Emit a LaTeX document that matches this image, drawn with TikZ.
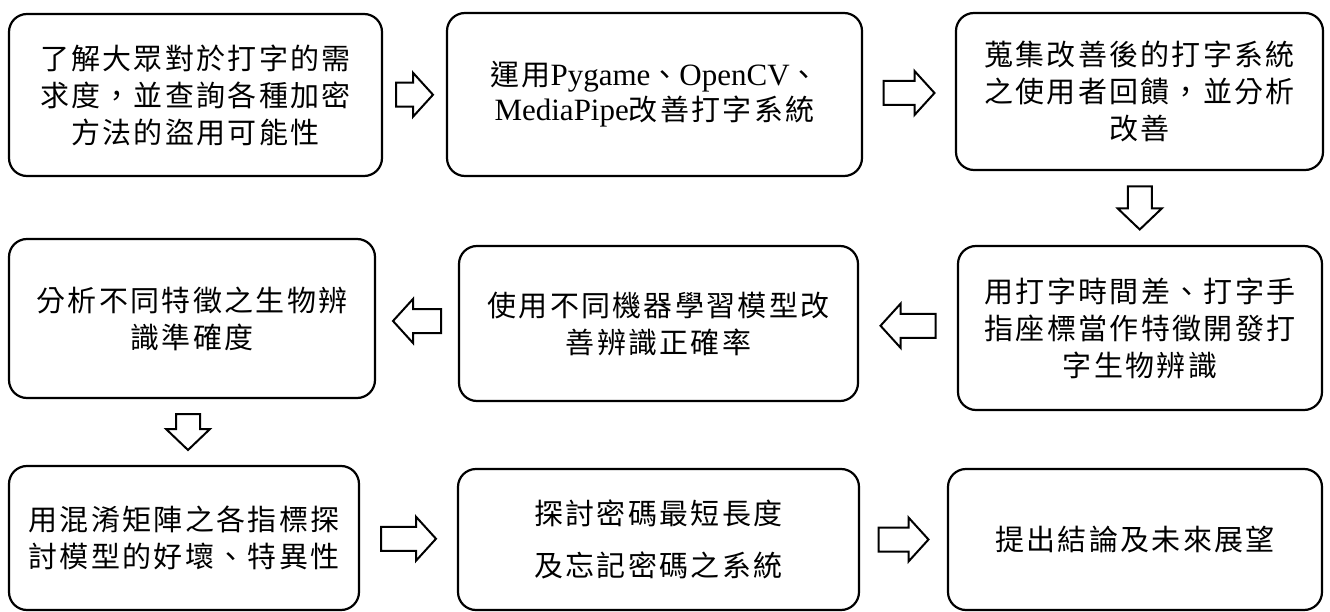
\documentclass[tikz,border=0pt]{standalone}
\usepackage{fontspec}
\setmainfont{Liberation Serif}
\newfontfamily\cjk[LetterSpace=8]{Noto Sans CJK TC}
\usetikzlibrary{calc}
\newcommand\blkR[2]{\draw[arr,shift={(#1)}] (-#2,-12) -- (#2-20,-12) -- (#2-20,-22) -- (#2,0) -- (#2-20,22) -- (#2-20,12) -- (-#2,12) -- cycle;}
\newcommand\blkL[2]{\draw[arr,shift={(#1)},xscale=-1] (-#2,-12) -- (#2-20,-12) -- (#2-20,-22) -- (#2,0) -- (#2-20,22) -- (#2-20,12) -- (-#2,12) -- cycle;}
\newcommand\blkD[2]{\draw[arr,shift={(#1)}] (-12,-#2) -- (12,-#2) -- (12,#2-21) -- (22,#2-21) -- (0,#2) -- (-22,#2-21) -- (-12,#2-21) -- cycle;}
\begin{document}
\begin{tikzpicture}[x=1pt,y=-1pt,
  box/.style={draw, line width=2.2pt, rounded corners=18pt, align=center, inner sep=0pt,
    font=\fontsize{29}{37}\selectfont\cjk},
  arr/.style={draw, line width=2pt, line join=miter, fill=white}]
\useasboundingbox (0,0) rectangle (1330,612);
\node[box, minimum width=373pt, minimum height=162pt] (b1) at (195.5,95)
  {了解大眾對於打字的需\\求度，並查詢各種加密\\方法的盜用可能性};
\node[box, minimum width=415pt, minimum height=163pt, font=\fontsize{31}{35}\selectfont] (b2) at (654.5,94.5)
  {{\fontsize{29}{35}\selectfont\cjk 運用}Pygame{\fontsize{29}{35}\selectfont\cjk 、}OpenCV{\fontsize{29}{35}\selectfont\cjk 、}\\MediaPipe{\fontsize{29}{35}\selectfont\cjk 改善打字系統}};
\node[box, minimum width=367pt, minimum height=157pt] (b3) at (1139.5,91.5)
  {蒐集改善後的打字系統\\之使用者回饋，並分析\\改善};
\node[box, minimum width=364pt, minimum height=164pt] (b4) at (1140,328)
  {用打字時間差、打字手\\指座標當作特徵開發打\\字生物辨識};
\node[box, minimum width=399pt, minimum height=155pt] (b5) at (658.5,323.5)
  {使用不同機器學習模型改\\善辨識正確率};
\node[box, minimum width=366pt, minimum height=159pt] (b6) at (192,318.5)
  {分析不同特徵之生物辨\\識準確度};
\node[box, minimum width=350pt, minimum height=144pt] (b7) at (184,538)
  {用混淆矩陣之各指標探\\討模型的好壞、特異性};
\node[box, minimum width=401pt, minimum height=141pt] (b8) at (658.5,539.5)
  {探討密碼最短長度\\[15pt]及忘記密碼之系統};
\node[box, minimum width=374pt, minimum height=141pt] (b9) at (1135,539.5)
  {提出結論及未來展望};
\coordinate (a12) at ($(b1.east)!0.5!(b2.west)$);
\coordinate (a23) at ($(b2.east)!0.5!(b3.west)$);
\coordinate (a34) at ($(b3.south)!0.5!(b4.north)$);
\coordinate (a45) at ($(b4.west)!0.5!(b5.east)$);
\coordinate (a56) at ($(b5.west)!0.5!(b6.east)$);
\coordinate (a67) at ($(b6.south)!0.5!(b7.north)$);
\coordinate (a78) at ($(b7.east)!0.5!(b8.west)$);
\coordinate (a89) at ($(b8.east)!0.5!(b9.west)$);
\blkR{a12}{18.5}
\blkR{a23}{25.5}
\blkD{a34}{21.5}
\blkL{a45}{27.5}
\blkL{a56}{24}
\blkD{a67}{18}
\blkR{a78}{27.5}
\blkR{a89}{25}
\end{tikzpicture}
\end{document}
